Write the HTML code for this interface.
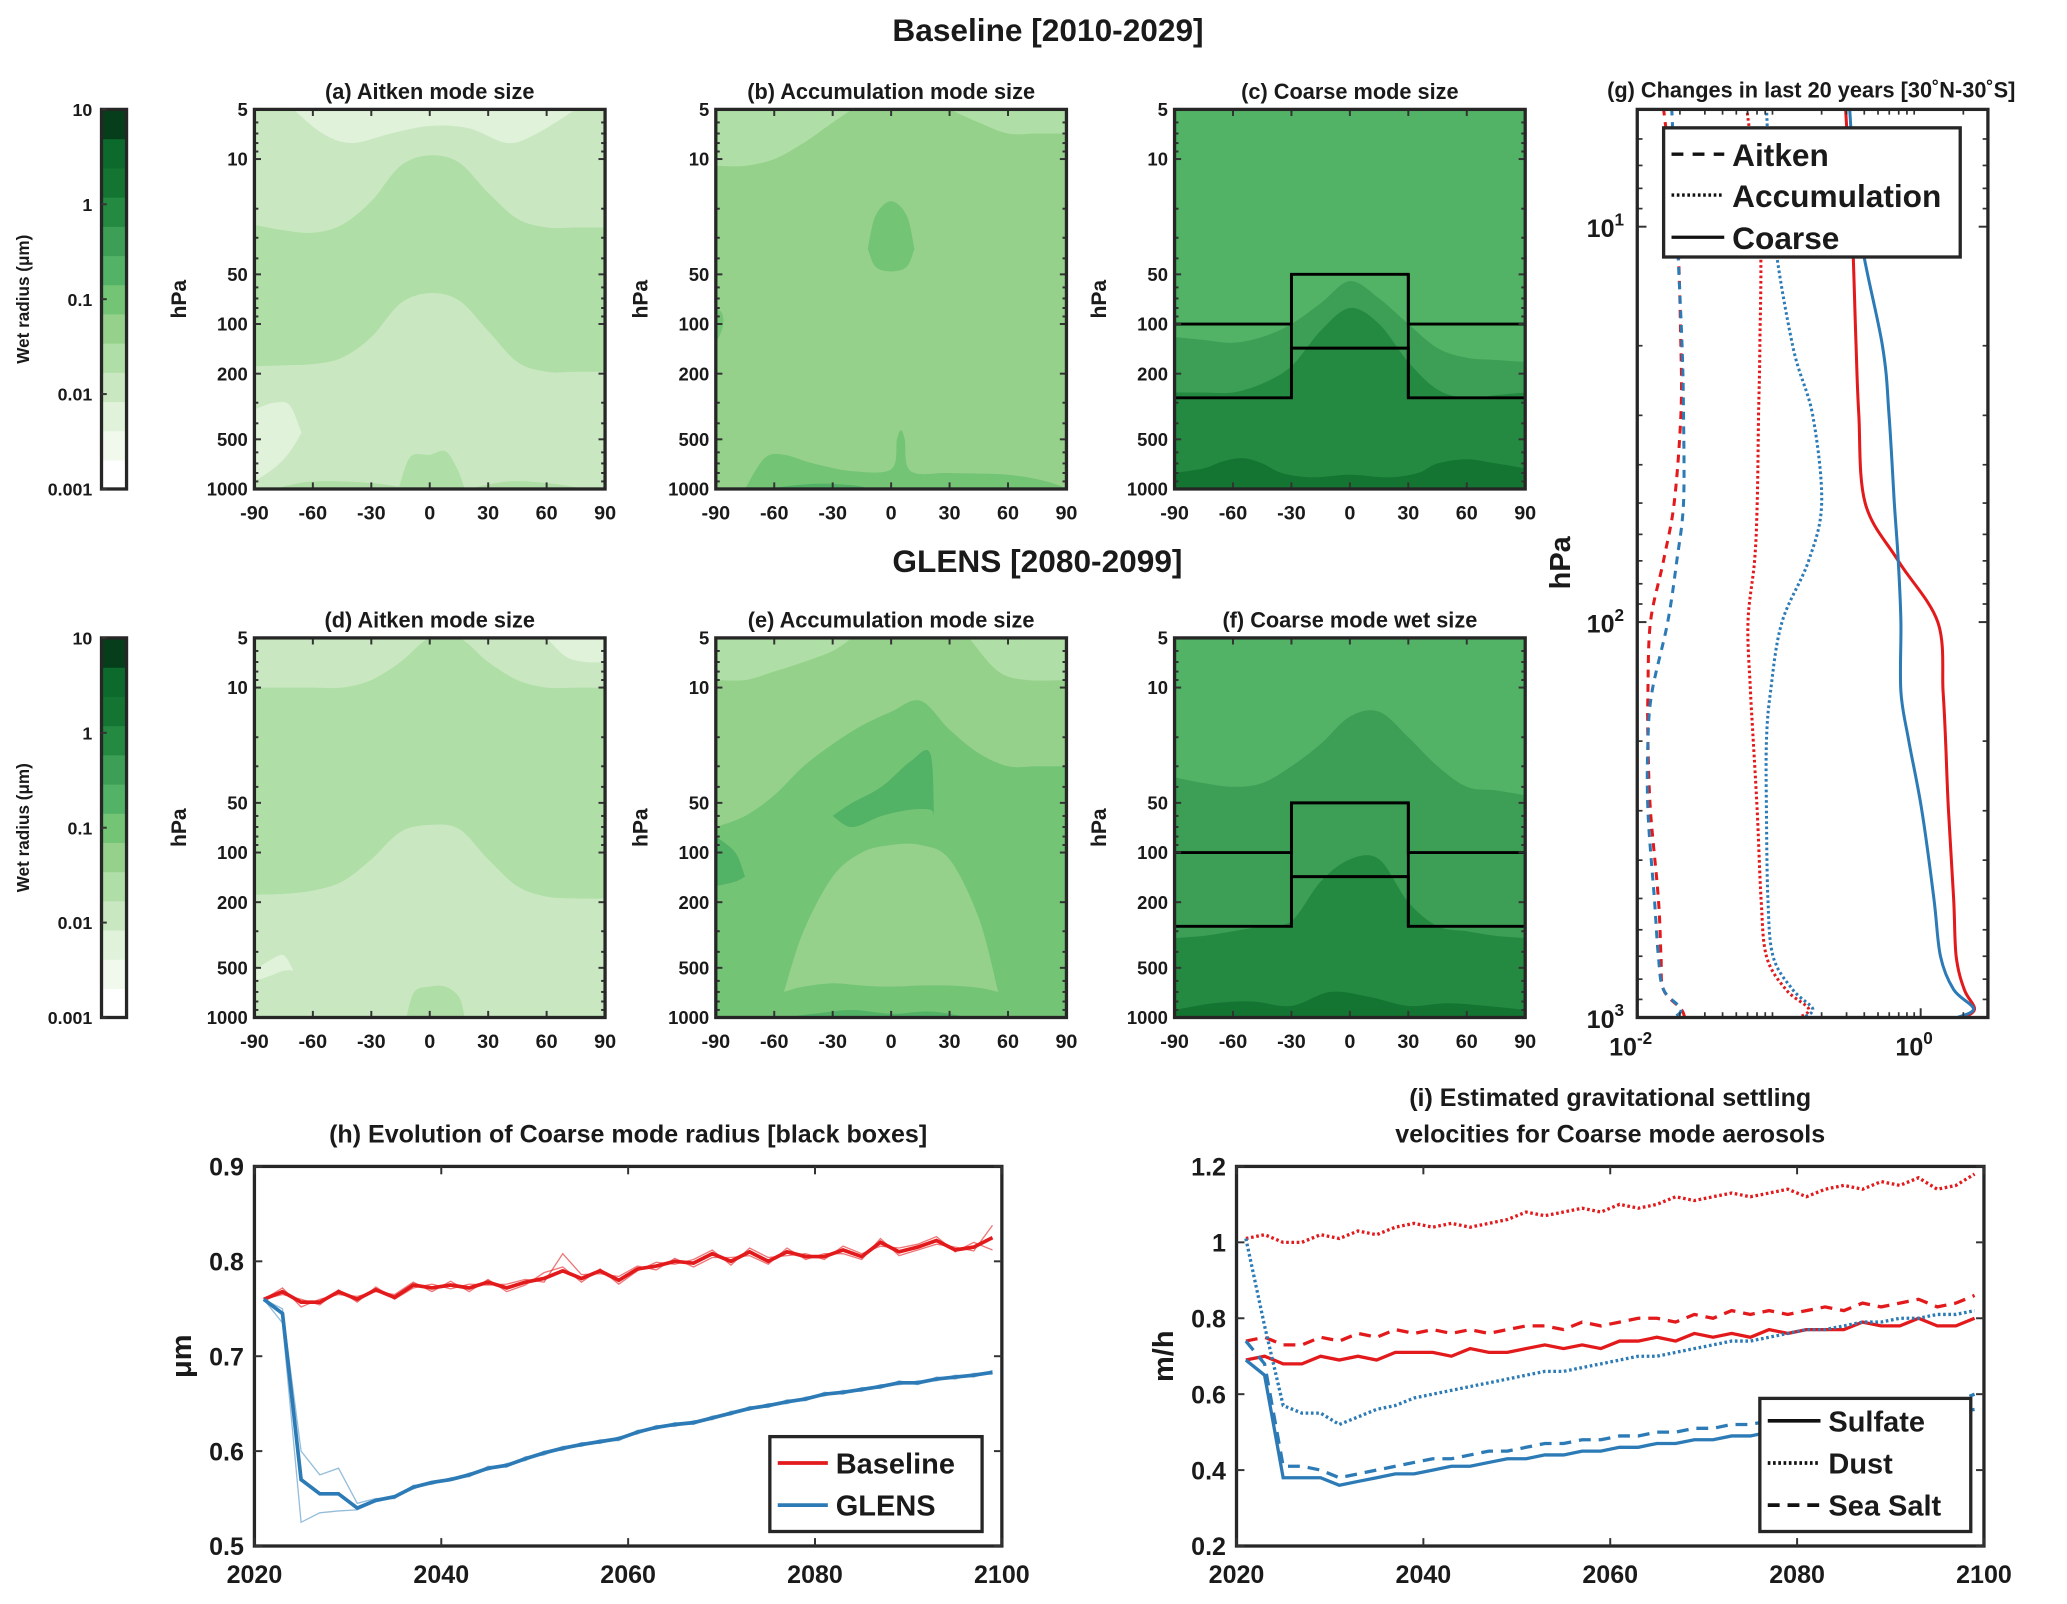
<!DOCTYPE html>
<html><head><meta charset="utf-8">
<style>
html,body{margin:0;padding:0;background:#fff;}
svg{display:block;}
text{font-family:"Liberation Sans",Arial,sans-serif;font-weight:bold;fill:#1a1a1a;}
</style></head>
<body>
<svg id="fig" xmlns="http://www.w3.org/2000/svg" width="2067" height="1604" viewBox="0 0 1568 1217" preserveAspectRatio="none">
<rect x="0" y="0" width="1568" height="1217" fill="#fff"/>
<text x="795" y="31" font-size="24" text-anchor="middle">Baseline [2010-2029]</text>
<text x="787" y="434" font-size="24" text-anchor="middle">GLENS [2080-2099]</text>
<g id="root"></g>
</svg>
<script>
// ===== Data =====
const levelColors = ["#ffffff","#f0f9ec","#e0f2da","#c9e8c1","#afdea6","#95d18b","#74c476","#52b266","#3c9f55","#258a41","#137531","#0c6a2c","#063d1a"];
const cbTicks = [10,1,0.1,0.01,0.001];
const cbTickLabels = ["10","1","0.1","0.01","0.001"];
const latTicks = [-90,-60,-30,0,30,60,90];
const pTicks = [5,10,50,100,200,500,1000];
const L13 = [-90,-75,-60,-45,-30,-15,0,15,30,45,60,75,90];
const F5 = [5,5,5,5,5,5,5,5,5,5,5,5,5];
const F1000 = [1000,1000,1000,1000,1000,1000,1000,1000,1000,1000,1000,1000,1000,1000];

const regionsA = [
 {lv:2, lats:[-70,-55,-40,-20,0,20,40,55,75], top:[5,5,5,5,5,5,5,5,5], bot:[5,7,8,7,6.3,6.5,8,7,5]},
 {lv:4, lats:L13, top:[25,27,28,25,18,11,9.5,10.5,16,23,26,26,26], bot:[180,178,175,160,120,75,65,72,110,170,195,195,195]},
 {lv:4, lats:[-16,-10,0,8,14,18], top:[1000,640,620,590,750,1000], bot:F1000},
 {lv:2, lats:[-90,-80,-72,-66], top:[330,300,310,450], bot:[900,750,600,460]},
 {lv:4, lats:[-80,-60,-30,-10], top:[1000,900,920,1000], bot:F1000},
 {lv:4, lats:[20,40,60,80], top:[1000,900,920,1000], bot:F1000}
];
const regionsB = [
 {lv:4, lats:[-90,-75,-60,-45,-30,-20], top:F5, bot:[11,11,10,8,6,5]},
 {lv:4, lats:[30,45,60,75,90], top:F5, bot:[5,6,7,7,7]},
 {lv:6, lats:[-12,-8,0,8,12], top:[35,22,18,22,35], bot:[35,45,48,45,35]},
 {lv:6, lats:[-90,-87,-86], top:[80,85,95], bot:[130,110,95]},
 {lv:6, lats:[-75,-65,-55,-40,-20,0,3,5,7,10,30,60,80,90], top:[1000,650,620,700,780,760,500,440,500,780,800,820,900,1000], bot:F1000},
 {lv:7, lats:[-65,-40,-20,-10], top:[1000,930,950,1000], bot:F1000}
];
const regionsC = [
 {lv:8, lats:L13, top:[120,125,130,120,100,75,55,70,100,140,160,165,170], bot:F1000},
 {lv:9, lats:L13, top:[260,260,260,230,180,110,80,100,170,250,280,270,260], bot:F1000},
 {lv:10, lats:[-90,-75,-65,-55,-45,-35,-20,0,20,35,45,60,75,90], top:[800,750,680,650,700,800,850,820,850,800,700,660,700,750], bot:F1000}
];
const regionsD = [
 {lv:2, lats:[60,70,80,90], top:F5, bot:[5,6.5,7,7]},
 {lv:4, lats:L13, top:[10,10,10,10,9,7,5,5,7,9,10,10,10], bot:[180,178,170,150,110,75,68,72,110,160,185,190,190]},
 {lv:4, lats:[-12,-8,0,8,15,18], top:[1000,700,650,650,750,1000], bot:F1000},
 {lv:2, lats:[-90,-82,-75,-70], top:[520,450,420,520], bot:[600,560,520,520]}
];
const regionsE = [
 {lv:5, lats:L13, top:F5, bot:[70,60,45,30,22,17,14,12,18,25,30,30,30]},
 {lv:4, lats:[-90,-75,-60,-45,-30,-20], top:F5, bot:[9,9,8,7,6,5]},
 {lv:4, lats:[40,55,70,90], top:F5, bot:[5,8,9,9]},
 {lv:5, lats:[-55,-45,-30,-15,0,15,30,45,55], top:[700,300,140,100,90,90,110,250,700], bot:[700,650,620,640,650,640,640,660,700]},
 {lv:7, lats:[-30,-20,-5,10,20,22], top:[60,50,40,28,25,60], bot:[60,70,60,55,55,60]},
 {lv:7, lats:[-90,-80,-75], top:[80,100,140], bot:[160,150,140]},
 {lv:7, lats:[-55,-40,-20,0,20,40], top:[1000,950,900,950,920,1000], bot:F1000}
];
const regionsF = [
 {lv:8, lats:L13, top:[35,38,40,38,30,22,15,14,20,30,40,42,45], bot:F1000},
 {lv:9, lats:L13, top:[330,320,300,280,260,150,110,110,200,280,300,320,330], bot:F1000},
 {lv:10, lats:[-90,-70,-50,-30,-10,10,30,50,70,90], top:[900,820,800,850,700,750,850,820,850,900], bot:F1000}
];
const boxUpper = [[-90,100],[-30,100],[-30,50],[30,50],[30,100],[90,100]];
const boxLower = [[-90,280],[-30,280],[-30,140],[30,140],[30,280],[90,280]];

// panel g
const gPressure = [5,10,20,30,50,70,100,150,200,300,500,700,850,950,1000];
const gBaseCoarse = [0.295,0.328,0.350,0.366,0.406,0.695,1.32,1.44,1.50,1.57,1.71,1.78,2.03,2.40,2.03];
const gGlensCoarse = [0.315,0.366,0.537,0.598,0.652,0.695,0.725,0.725,0.825,1.02,1.24,1.38,1.71,2.36,1.82];
const gBaseAccum = [0.0592,0.0733,0.0733,0.0718,0.0702,0.0673,0.0604,0.0630,0.0659,0.0702,0.0748,0.0816,0.112,0.162,0.139];
const gGlensAccum = [0.0816,0.0908,0.125,0.173,0.200,0.162,0.105,0.0871,0.0816,0.0816,0.0835,0.0908,0.125,0.173,0.149];
const gBaseAitken = [0.0153,0.0190,0.0203,0.0203,0.0182,0.0153,0.0124,0.0119,0.0119,0.0124,0.0141,0.0147,0.0153,0.0203,0.0216];
const gGlensAitken = [0.0175,0.0190,0.0207,0.0212,0.0212,0.0190,0.0164,0.0127,0.0119,0.0119,0.0132,0.0141,0.0153,0.0203,0.0182];

// panel h
const years = [2021,2023,2025,2027,2029,2031,2033,2035,2037,2039,2041,2043,2045,2047,2049,2051,2053,2055,2057,2059,2061,2063,2065,2067,2069,2071,2073,2075,2077,2079,2081,2083,2085,2087,2089,2091,2093,2095,2097,2099];
const hBase = [.760,.768,.757,.757,.768,.760,.770,.762,.775,.772,.775,.772,.778,.772,.778,.782,.790,.782,.790,.780,.792,.795,.800,.798,.808,.800,.810,.800,.810,.805,.805,.812,.805,.820,.810,.815,.822,.812,.815,.825];
const hBaseM1 = [.760,.772,.752,.760,.765,.763,.768,.765,.778,.768,.779,.768,.781,.768,.775,.788,.794,.778,.792,.776,.790,.799,.797,.802,.812,.796,.814,.804,.806,.808,.802,.816,.808,.816,.814,.818,.826,.810,.820,.812];
const hBaseM2 = [.760,.765,.760,.754,.770,.757,.773,.760,.772,.776,.771,.776,.775,.776,.781,.778,.808,.786,.787,.784,.795,.791,.803,.794,.804,.804,.806,.797,.814,.802,.808,.808,.802,.824,.806,.812,.818,.815,.811,.838];
const hGlens = [.760,.745,.570,.555,.555,.540,.548,.552,.562,.567,.570,.575,.582,.585,.592,.598,.603,.607,.610,.613,.620,.625,.628,.630,.635,.640,.645,.648,.652,.655,.660,.662,.665,.668,.672,.672,.676,.678,.680,.683];
const hGlensM1 = [.760,.735,.525,.535,.537,.538,.547,.553,.560,.568,.569,.577,.580,.587,.590,.600,.601,.609,.608,.615,.618,.627,.626,.632,.633,.642,.643,.650,.650,.657,.658,.664,.663,.670,.670,.674,.674,.680,.678,.685];
const hGlensM2 = [.760,.750,.600,.575,.582,.545,.550,.550,.564,.565,.572,.573,.584,.583,.594,.596,.605,.605,.612,.611,.622,.623,.630,.628,.637,.638,.647,.646,.654,.653,.662,.660,.667,.666,.674,.670,.678,.676,.682,.681];

// panel i
const iBaseDust = [1.01,1.02,1.00,1.00,1.02,1.01,1.03,1.02,1.04,1.05,1.04,1.05,1.04,1.05,1.06,1.08,1.07,1.08,1.09,1.08,1.10,1.09,1.10,1.12,1.11,1.12,1.13,1.12,1.13,1.14,1.12,1.14,1.15,1.14,1.16,1.15,1.17,1.14,1.15,1.18];
const iBaseSalt = [.74,.75,.73,.73,.75,.74,.76,.75,.77,.76,.77,.76,.77,.76,.77,.78,.78,.77,.79,.78,.79,.80,.80,.79,.81,.80,.82,.81,.82,.81,.82,.83,.82,.84,.83,.84,.85,.83,.84,.86];
const iBaseSulf = [.69,.70,.68,.68,.70,.69,.70,.69,.71,.71,.71,.70,.72,.71,.71,.72,.73,.72,.73,.72,.74,.74,.75,.74,.76,.75,.76,.75,.77,.76,.77,.77,.77,.79,.78,.78,.80,.78,.78,.80];
const iGlensDust = [1.01,0.78,0.57,0.55,0.55,0.52,0.54,0.56,0.57,0.59,0.60,0.61,0.62,0.63,0.64,0.65,0.66,0.66,0.67,0.68,0.69,0.70,0.70,0.71,0.72,0.73,0.74,0.74,0.75,0.76,0.77,0.77,0.78,0.79,0.79,0.80,0.80,0.81,0.81,0.82];
const iGlensSalt = [.74,.68,.41,.41,.40,.38,.39,.40,.41,.42,.43,.43,.44,.45,.45,.46,.47,.47,.48,.48,.49,.49,.50,.50,.51,.51,.52,.52,.53,.53,.54,.54,.55,.55,.56,.56,.57,.57,.58,.60];
const iGlensSulf = [.69,.65,.38,.38,.38,.36,.37,.38,.39,.39,.40,.41,.41,.42,.43,.43,.44,.44,.45,.45,.46,.46,.47,.47,.48,.48,.49,.49,.50,.50,.51,.51,.52,.52,.53,.53,.54,.54,.55,.56];

// ===== Drawing =====
const NS = "http://www.w3.org/2000/svg";
const root = document.getElementById('root');
function el(tag, attrs, parent){const e=document.createElementNS(NS,tag);for(const k in attrs)e.setAttribute(k,attrs[k]);(parent||root).appendChild(e);return e;}
function txt(s,attrs,parent){const e=el('text',attrs,parent);e.textContent=s;return e;}
function smooth(pts){
  let d='';
  for(let i=0;i<pts.length-1;i++){
    const p0=pts[Math.max(0,i-1)],p1=pts[i],p2=pts[i+1],p3=pts[Math.min(pts.length-1,i+2)];
    const c1=[p1[0]+(p2[0]-p0[0])/6,p1[1]+(p2[1]-p0[1])/6];
    const c2=[p2[0]-(p3[0]-p1[0])/6,p2[1]-(p3[1]-p1[1])/6];
    d+=` C${c1[0].toFixed(1)},${c1[1].toFixed(1)} ${c2[0].toFixed(1)},${c2[1].toFixed(1)} ${p2[0].toFixed(1)},${p2[1].toFixed(1)}`;
  }
  return d;
}
const PW=266, PH=288;
function contourPanel(id,x0,y0,title,regions,bgLv,boxes){
  const X=lat=>x0+(lat+90)/180*PW;
  const Y=p=>y0+PH*Math.log10(p/5)/Math.log10(200);
  const g=el('g',{});
  
  
  const cp=el('clipPath',{id:'clip'+id},g);
  el('rect',{x:x0,y:y0,width:PW,height:PH},cp);
  const body=el('g',{'clip-path':`url(#clip${id})`},g);
  const bg=el('rect',{x:x0,y:y0,width:PW,height:PH,fill:levelColors[bgLv]},body);
  
  
  regions.forEach(r=>{
    const top=r.lats.map((l,i)=>[X(l),Y(r.top[i])]);
    const bot=r.lats.map((l,i)=>[X(l),Y(r.bot[i])]).reverse();
    const d=`M${top[0][0]},${top[0][1]}`+smooth(top)+` L${bot[0][0]},${bot[0][1]}`+smooth(bot)+' Z';
    const p=el('path',{d:d,fill:levelColors[r.lv]},body);
    
    
  });
  if(boxes){
    [boxUpper,boxLower].forEach(b=>{
      const bl=el('polyline',{points:b.map(q=>X(q[0])+','+Y(q[1])).join(' '),fill:'none',stroke:'#000','stroke-width':2.2},body);
      
      
    });
    [-30,30].forEach(l=>{
      const v=el('line',{x1:X(l),x2:X(l),y1:Y(50),y2:Y(280),stroke:'#000','stroke-width':2.2},body);
      
      
    });
  }
  // minor ticks
  [6,7,8,9,20,30,40,60,70,80,90,300,400,600,700,800,900].forEach(p=>{
    el('line',{x1:x0,x2:x0+3,y1:Y(p),y2:Y(p),stroke:'#333','stroke-width':1.5},g);
    el('line',{x1:x0+PW,x2:x0+PW-3,y1:Y(p),y2:Y(p),stroke:'#333','stroke-width':1.5},g);
  });
  pTicks.forEach(p=>{
    el('line',{x1:x0,x2:x0+5,y1:Y(p),y2:Y(p),stroke:'#333','stroke-width':1.5},g);
    el('line',{x1:x0+PW,x2:x0+PW-5,y1:Y(p),y2:Y(p),stroke:'#333','stroke-width':1.5},g);
    const t=txt(String(p),{x:x0-5,y:Y(p)+5,'font-size':14,'text-anchor':'end'},g);
    
    
  });
  latTicks.forEach(l=>{
    el('line',{x1:X(l),x2:X(l),y1:y0,y2:y0+5,stroke:'#333','stroke-width':1.5},g);
    el('line',{x1:X(l),x2:X(l),y1:y0+PH,y2:y0+PH-5,stroke:'#333','stroke-width':1.5},g);
    const t=txt(String(l),{x:X(l),y:y0+PH+23,'font-size':15,'text-anchor':'middle'},g);
    
    
  });
  const fr=el('rect',{x:x0,y:y0,width:PW,height:PH,fill:'none',stroke:'#262626','stroke-width':2.5},g);
  
  
  const tt=txt(title,{x:x0+PW/2,y:y0-8,'font-size':16.5,'text-anchor':'middle'},g);
  
  
  const yl=txt('hPa',{x:0,y:0,'font-size':16,'text-anchor':'middle',transform:`translate(${x0-52},${y0+PH/2}) rotate(-90)`},g);
  
  
}
function colorbar(x0,y0){
  const h=288,w=19;
  const Y=v=>y0+h*(1-(Math.log10(v)+3)/4);
  const g=el('g',{});
  
  
  const n=levelColors.length;
  levelColors.forEach((c,i)=>{
    const s=el('rect',{x:x0,y:y0+h-(i+1)*h/n,width:w,height:h/n+0.5,fill:c},g);
    
    
  });
  el('rect',{x:x0,y:y0,width:w,height:h,fill:'none',stroke:'#262626','stroke-width':2.5},g);
  cbTicks.forEach((v,i)=>{
    el('line',{x1:x0,x2:x0+4,y1:Y(v),y2:Y(v),stroke:'#333','stroke-width':1.5},g);
    const t=txt(cbTickLabels[i],{x:x0-7,y:Y(v)+5,'font-size':13.5,'text-anchor':'end'},g);
    
    
  });
  const l=txt('Wet radius (μm)',{x:0,y:0,'font-size':13,'text-anchor':'middle',transform:`translate(${x0-55},${y0+h/2}) rotate(-90)`},g);
  
  
}
colorbar(77,83); colorbar(77,484);
contourPanel('a',193,83,'(a) Aitken mode size',regionsA,3,false);
contourPanel('b',543,83,'(b) Accumulation mode size',regionsB,5,false);
contourPanel('c',891,83,'(c) Coarse mode size',regionsC,7,true);
contourPanel('d',193,484,'(d) Aitken mode size',regionsD,3,false);
contourPanel('e',543,484,'(e) Accumulation mode size',regionsE,6,false);
contourPanel('f',891,484,'(f) Coarse mode wet size',regionsF,7,true);

const RED='#e31a1c', BLUE='#2c7bb6';
// ===== panel g =====
(function(){
  const x0=1242,x1=1508,y0=83,y1=772;
  const X=v=>x0+(Math.log10(v)+2)*107.5;
  const Y=p=>172+300*Math.log10(p/10);
  const g=el('g',{});
  
  
  const cp=el('clipPath',{id:'clipg'},g);
  el('rect',{x:x0,y:y0,width:x1-x0,height:y1-y0},cp);
  const body=el('g',{'clip-path':'url(#clipg)'},g);
  const series=[[gBaseAitken,RED,'6,5','aitken-baseline'],[gGlensAitken,BLUE,'6,5','aitken-glens'],[gBaseAccum,RED,'2,2','accumulation-baseline'],[gGlensAccum,BLUE,'2,2','accumulation-glens'],[gBaseCoarse,RED,'none','coarse-baseline'],[gGlensCoarse,BLUE,'none','coarse-glens']];
  series.forEach(s=>{
    const pts=gPressure.map((p,i)=>[X(s[0][i]),Y(p)]);
    const path=el('path',{d:`M${pts[0][0]},${pts[0][1]}`+smooth(pts),fill:'none',stroke:s[1],'stroke-width':2.3,'stroke-dasharray':s[2]},body);
    
    
  });
  // ticks
  [10,100,1000].forEach((p,i)=>{
    el('line',{x1:x0,x2:x0+7,y1:Y(p),y2:Y(p),stroke:'#333','stroke-width':1.5},g);
    el('line',{x1:x1,x2:x1-7,y1:Y(p),y2:Y(p),stroke:'#333','stroke-width':1.5},g);
    const t=txt('',{x:x0-10,y:Y(p)+8,'font-size':19,'text-anchor':'end'},g);
    
    
    const a=el('tspan',{},t);a.textContent='10';
    const b=el('tspan',{dy:-9,'font-size':13},t);b.textContent=String(i+1);
  });
  [6,7,8,9,20,30,40,50,60,70,80,90,200,300,400,500,600,700,800,900].forEach(p=>{
    el('line',{x1:x0,x2:x0+4,y1:Y(p),y2:Y(p),stroke:'#333','stroke-width':1.3},g);
    el('line',{x1:x1,x2:x1-4,y1:Y(p),y2:Y(p),stroke:'#333','stroke-width':1.3},g);
  });
  [0.02,0.03,0.04,0.05,0.06,0.07,0.08,0.09,0.2,0.3,0.4,0.5,0.6,0.7,0.8,0.9,2,3].forEach(v=>{
    el('line',{x1:X(v),x2:X(v),y1:y1,y2:y1-4,stroke:'#333','stroke-width':1.3},g);
    el('line',{x1:X(v),x2:X(v),y1:y0,y2:y0+4,stroke:'#333','stroke-width':1.3},g);
  });
  [[0.01,'-2'],[1,'0']].forEach(q=>{
    el('line',{x1:X(q[0]),x2:X(q[0]),y1:y1,y2:y1-7,stroke:'#333','stroke-width':1.5},g);
    const t=txt('',{x:X(q[0])-5,y:y1+29,'font-size':19,'text-anchor':'middle'},g);
    
    
    const a=el('tspan',{},t);a.textContent='10';
    const b=el('tspan',{dy:-9,'font-size':13},t);b.textContent=q[1];
  });
  el('rect',{x:x0,y:y0,width:x1-x0,height:y1-y0,fill:'none',stroke:'#262626','stroke-width':2.5},g);
  const tt=txt('(g) Changes in last 20 years [30˚N-30˚S]',{x:1374,y:74,'font-size':16.5,'text-anchor':'middle'},g);
  
  
  const yl=txt('hPa',{x:0,y:0,'font-size':22,'text-anchor':'middle',transform:'translate(1191,427) rotate(-90)'},g);
  
  
  const lg=el('g',{},g);
  
  
  el('rect',{x:1262,y:97,width:225,height:98,fill:'#fff',stroke:'#262626','stroke-width':2.5},lg);
  [['Aitken','9,7',117],['Accumulation','2,2',148],['Coarse','none',180]].forEach(e=>{
    el('line',{x1:1268,x2:1308,y1:e[2],y2:e[2],stroke:'#111','stroke-width':2.5,'stroke-dasharray':e[1]},lg);
    const t=txt(e[0],{x:1314,y:e[2]+9,'font-size':24},lg);
    
    
  });
})();

// ===== time series panels =====
function tsPanel(id,x0,x1,y0,y1,vmin,vmax,yTicks,yLabels,ylabel,titleLines,series,legend){
  const X=yr=>x0+(yr-2020)/80*(x1-x0);
  const Y=v=>y1-(v-vmin)/(vmax-vmin)*(y1-y0);
  const g=el('g',{});
  
  
  const cp=el('clipPath',{id:'clip'+id},g);
  el('rect',{x:x0,y:y0,width:x1-x0,height:y1-y0},cp);
  const body=el('g',{'clip-path':`url(#clip${id})`},g);
  series.forEach(s=>{
    const pts=years.map((yr,i)=>X(yr).toFixed(1)+','+Y(s.v[i]).toFixed(1)).join(' ');
    const pl=el('polyline',{points:pts,fill:'none',stroke:s.c,'stroke-width':s.w,'stroke-dasharray':s.d||'none','stroke-opacity':s.o||1},body);
    
    
  });
  el('rect',{x:x0,y:y0,width:x1-x0,height:y1-y0,fill:'none',stroke:'#262626','stroke-width':2.5},g);
  yTicks.forEach((v,i)=>{
    el('line',{x1:x0,x2:x0+6,y1:Y(v),y2:Y(v),stroke:'#333','stroke-width':1.5},g);
    el('line',{x1:x1,x2:x1-6,y1:Y(v),y2:Y(v),stroke:'#333','stroke-width':1.5},g);
    const t=txt(yLabels[i],{x:x0-8,y:Y(v)+7,'font-size':19,'text-anchor':'end'},g);
    
    
  });
  [2020,2040,2060,2080,2100].forEach(yr=>{
    el('line',{x1:X(yr),x2:X(yr),y1:y1,y2:y1-6,stroke:'#333','stroke-width':1.5},g);
    el('line',{x1:X(yr),x2:X(yr),y1:y0,y2:y0+6,stroke:'#333','stroke-width':1.5},g);
    const t=txt(String(yr),{x:X(yr),y:y1+28,'font-size':19,'text-anchor':'middle'},g);
    
    
  });
  titleLines.forEach((l,i)=>{
    const t=txt(l,{x:(x0+x1)/2,y:y0-18-(titleLines.length-1-i)*28,'font-size':19,'text-anchor':'middle'},g);
    
    
  });
  const yl=txt(ylabel,{x:0,y:0,'font-size':22,'text-anchor':'middle',transform:`translate(${x0-48},${(y0+y1)/2}) rotate(-90)`},g);
  
  
  const lg=el('g',{},g);
  
  
  el('rect',{x:legend.x,y:legend.y,width:legend.w,height:legend.h,fill:'#fff',stroke:'#262626','stroke-width':2.5},lg);
  legend.items.forEach((it,i)=>{
    const yy=legend.y+legend.y0+i*32;
    el('line',{x1:legend.x+6,x2:legend.x+legend.lw,y1:yy,y2:yy,stroke:it.c,'stroke-width':2.8,'stroke-dasharray':it.d||'none'},lg);
    const t=txt(it.t,{x:legend.x+legend.lw+6,y:yy+8,'font-size':22},lg);
    
    
  });
}
tsPanel('h',193,760,885,1173,0.5,0.9,[0.5,0.6,0.7,0.8,0.9],['0.5','0.6','0.7','0.8','0.9'],'μm',['(h) Evolution of Coarse mode radius [black boxes]'],
 [{v:hBaseM1,c:RED,w:1,o:0.6,n:'baseline-member-1'},{v:hBaseM2,c:RED,w:1,o:0.6,n:'baseline-member-2'},
  {v:hGlensM1,c:BLUE,w:1,o:0.5,n:'glens-member-1'},{v:hGlensM2,c:BLUE,w:1,o:0.5,n:'glens-member-2'},
  {v:hBase,c:RED,w:2.8,n:'baseline-mean-line'},{v:hGlens,c:BLUE,w:2.8,n:'glens-mean-line'}],
 {x:584,y:1090,w:161,h:72,y0:20,lw:44,items:[{t:'Baseline',c:RED},{t:'GLENS',c:BLUE}]});
tsPanel('i',938,1505,885,1173,0.2,1.2,[0.2,0.4,0.6,0.8,1.0,1.2],['0.2','0.4','0.6','0.8','1','1.2'],'m/h',['(i) Estimated gravitational settling','velocities for Coarse mode aerosols'],
 [{v:iBaseDust,c:RED,w:2.5,d:'2,2',n:'baseline-dust-line'},{v:iBaseSalt,c:RED,w:2.5,d:'9,6',n:'baseline-seasalt-line'},{v:iBaseSulf,c:RED,w:2.5,n:'baseline-sulfate-line'},
  {v:iGlensDust,c:BLUE,w:2.5,d:'2,2',n:'glens-dust-line'},{v:iGlensSalt,c:BLUE,w:2.5,d:'9,6',n:'glens-seasalt-line'},{v:iGlensSulf,c:BLUE,w:2.5,n:'glens-sulfate-line'}],
 {x:1335,y:1061,w:160,h:101,y0:17,lw:46,items:[{t:'Sulfate',c:'#111'},{t:'Dust',c:'#111',d:'2,2'},{t:'Sea Salt',c:'#111',d:'9,6'}]});
</script>
</body></html>
